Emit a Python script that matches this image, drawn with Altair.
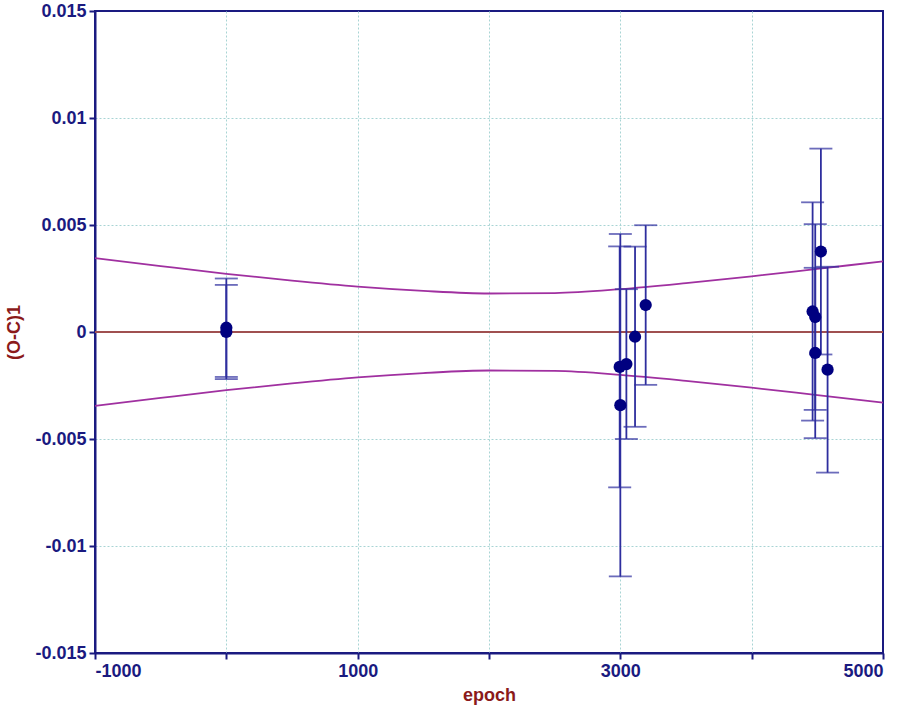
import altair as alt
import pandas as pd

# Observations (epoch, O-C, error half-width)
epoch = [0, 0, 2995, 3000, 3046, 3112, 3193, 4464, 4484, 4484, 4527, 4578]
oc = [0.0002, 0.0000, -0.00163, -0.00342, -0.00150, -0.00022, 0.00126,
      0.00096, 0.00070, -0.00098, 0.00376, -0.00176]
err = [0.0023, 0.0022, 0.00563, 0.0080, 0.00350, 0.00421, 0.00373,
       0.00510, 0.00434, 0.00398, 0.00481, 0.00481]

# Confidence band
band_x = [-1000, -500, 0, 500, 1000, 1500, 2000, 2500, 3000, 3500, 4000, 4500, 5000]
band_up = [0.00345, 0.00308, 0.00272, 0.00240, 0.00212, 0.00192, 0.00180,
           0.00182, 0.00200, 0.00228, 0.00260, 0.00295, 0.00330]
band_lo = [-v for v in band_up]

zero_x = [-1000, 5000]
zero_y = [0, 0]

obs = pd.DataFrame({"epoch": epoch, "oc": oc, "err": err})
obs["lo"] = obs["oc"] - obs["err"]
obs["hi"] = obs["oc"] + obs["err"]

band = pd.DataFrame({"epoch": band_x * 2, "y": band_up + band_lo,
                     "side": ["up"] * len(band_x) + ["lo"] * len(band_x)})
zero = pd.DataFrame({"epoch": zero_x, "y": zero_y})

NAVY = "#1a1a80"
TITLE = "#8b1a1a"
BAR = "#2e2e9e"

xscale = alt.Scale(domain=[-1000, 5000], nice=False, zero=False)
yscale = alt.Scale(domain=[-0.015, 0.015], nice=False, zero=False)

common = dict(grid=True, gridColor="#a8d4d4", gridDash=[2, 2], gridWidth=1,
              domainColor=NAVY, domainWidth=2, tickColor=NAVY, tickSize=6, tickWidth=2,
              labelColor=NAVY, labelFont="Liberation Sans", labelFontSize=18,
              labelFontWeight="bold",
              titleColor=TITLE, titleFont="Liberation Sans", titleFontSize=18,
              titleFontWeight="bold")

xaxis = alt.Axis(title="epoch", values=[-1000, 0, 1000, 2000, 3000, 4000, 5000],
                 labelExpr="abs(datum.value) % 2000 == 1000 ? '' + datum.value : ''",
                 gridOpacity={"condition": {"test": "datum.value >= 5000 || datum.value <= -1000",
                                            "value": 0}, "value": 1},
                 labelPadding=3, titlePadding=6, **common)
yaxis = alt.Axis(title="(O-C)1", values=[-0.015, -0.01, -0.005, 0, 0.005, 0.01, 0.015],
                 labelExpr="'' + round(datum.value * 1000) / 1000",
                 gridOpacity={"condition": {"test": "abs(datum.value) >= 0.0149",
                                            "value": 0}, "value": 1},
                 labelPadding=3, titleX=-72, **common)

base_zero = alt.Chart(zero).mark_line(color="#a05050", strokeWidth=2).encode(
    x=alt.X("epoch:Q", scale=xscale, axis=xaxis),
    y=alt.Y("y:Q", scale=yscale, axis=yaxis),
)

band_lines = alt.Chart(band).mark_line(color="#a030a0", strokeWidth=1.8,
                                       interpolate="monotone").encode(
    x=alt.X("epoch:Q", scale=xscale),
    y=alt.Y("y:Q", scale=yscale),
    detail="side:N",
)

bars = alt.Chart(obs).mark_rule(color=BAR, strokeWidth=1.8).encode(
    x=alt.X("epoch:Q", scale=xscale),
    y=alt.Y("lo:Q", scale=yscale),
    y2="hi:Q",
)
cap_lo = alt.Chart(obs).mark_tick(color=BAR, orient="horizontal",
                                  size=23, thickness=1.8).encode(
    x=alt.X("epoch:Q", scale=xscale),
    y=alt.Y("lo:Q", scale=yscale),
)
cap_hi = alt.Chart(obs).mark_tick(color=BAR, orient="horizontal",
                                  size=23, thickness=1.8).encode(
    x=alt.X("epoch:Q", scale=xscale),
    y=alt.Y("hi:Q", scale=yscale),
)
pts = alt.Chart(obs).mark_point(filled=True, shape="circle", size=150,
                                color="#000080", opacity=1).encode(
    x=alt.X("epoch:Q", scale=xscale),
    y=alt.Y("oc:Q", scale=yscale),
)

chart = alt.layer(base_zero, band_lines, bars, cap_lo, cap_hi, pts).properties(
    width=788, height=642,
    background="white",
    autosize=alt.AutoSizeParams(type="none"),
    padding={"left": 95, "top": 11, "right": 30, "bottom": 56},
).configure_view(stroke=NAVY, strokeWidth=2)

chart.save("out.html", embed_options={"renderer": "svg", "actions": False})
